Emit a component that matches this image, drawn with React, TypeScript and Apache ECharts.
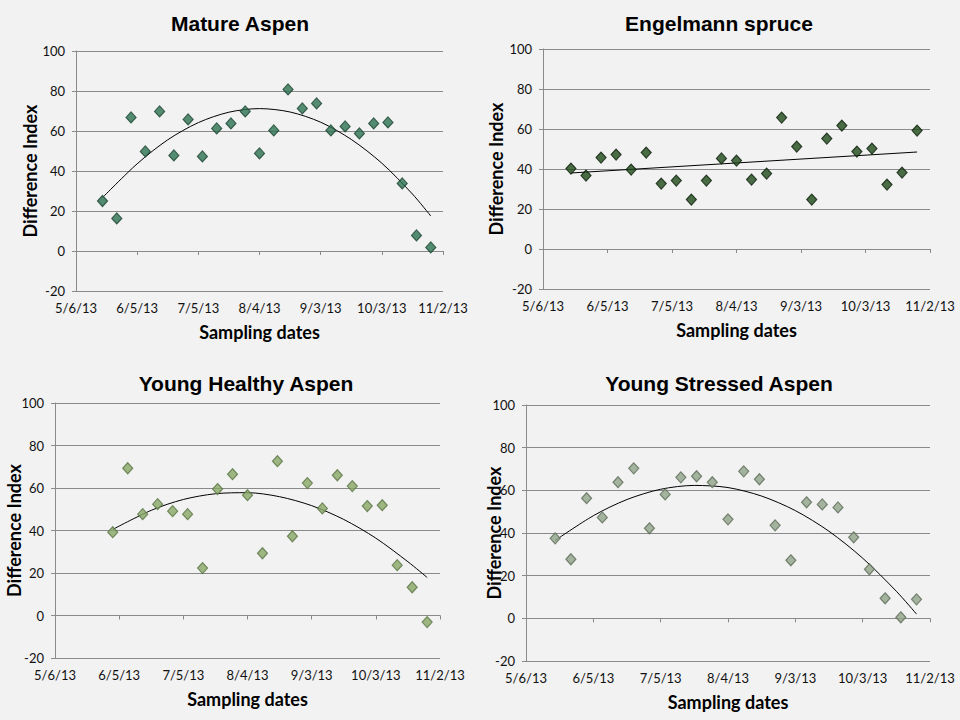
import * as echarts from "echarts";
import { useEffect, useRef } from "react";

const samplingDates = [
  "5/19/13", "5/26/13", "6/2/13", "6/9/13", "6/16/13", "6/23/13", "6/30/13", "7/7/13",
  "7/14/13", "7/21/13", "7/28/13", "8/4/13", "8/11/13", "8/18/13", "8/25/13", "9/1/13",
  "9/8/13", "9/15/13", "9/22/13", "9/29/13", "10/6/13", "10/13/13", "10/20/13", "10/27/13"
];
const youngHealthyDates = samplingDates.slice(2);

const matureAspen = [
  25.0, 16.3, 66.8, 49.8, 69.8, 47.8, 65.8, 47.3, 61.3, 63.8, 69.8, 48.8,
  60.3, 80.8, 71.3, 73.8, 60.3, 62.3, 58.8, 63.8, 64.3, 33.8, 7.8, 1.8
];
const engelmannSpruce = [
  40.2, 36.7, 45.7, 47.2, 39.7, 48.2, 32.7, 34.2, 24.7, 34.2, 45.3, 44.2,
  34.7, 37.7, 65.7, 51.2, 24.7, 55.2, 61.7, 48.7, 50.2, 32.2, 38.2, 59.2
];
const youngHealthyAspen = [
  39.2, 69.3, 47.7, 52.4, 49.1, 47.7, 22.3, 59.5, 66.5, 56.6, 29.3,
  72.6, 37.3, 62.3, 50.4, 66.0, 60.9, 51.5, 51.9, 23.7, 13.3, -3.1
];
const youngStressedAspen = [
  37.5, 27.7, 56.3, 47.3, 63.8, 70.3, 42.2, 58.1, 66.1, 66.6, 63.8, 46.4,
  68.9, 65.2, 43.6, 27.2, 54.4, 53.4, 52.0, 38.0, 23.0, 9.4, 0.5, 8.9
];

const trendDates = [
  "5/19/13", "6/5/13", "6/20/13", "7/5/13", "7/20/13", "8/4/13",
  "8/19/13", "9/3/13", "9/18/13", "10/3/13", "10/18/13", "10/27/13"
];
const matureTrend = [26.7, 43.6, 55.6, 64.2, 69.4, 71.2, 69.5, 64.4, 55.8, 43.9, 28.5, 17.5];
const healthyTrendDates = ["6/2/13", ...trendDates.slice(2)];
const healthyTrend = [40.5, 49.5, 54.6, 57.3, 57.8, 55.9, 51.7, 45.2, 36.4, 25.3, 17.9];
const stressedTrend = [36.5, 48.1, 55.7, 60.5, 62.3, 61.3, 57.3, 50.5, 40.8, 28.2, 12.7, 2.0];
const spruceTrendDates = ["5/19/13", "10/27/13"];
const spruceTrend = [38.0, 48.5];

const yTicks = { min: -20, max: 100, step: 20 };
const xStart = Date.UTC(2013, 4, 6);
const dayMs = 86400000;

function dayOffset(label: string) {
  const [m, d, y] = label.split("/").map(Number);
  return (Date.UTC(2000 + y, m - 1, d) - xStart) / dayMs;
}

function dateLabel(value: number) {
  const dt = new Date(xStart + value * dayMs);
  return `${dt.getUTCMonth() + 1}/${dt.getUTCDate()}/${dt.getUTCFullYear() % 100}`;
}

const panels = [
  {
    title: "Mature Aspen", dates: samplingDates, values: matureAspen,
    trendDates, trend: matureTrend,
    fill: "#2c7250", border: "#1c4431",
    grid: { left: 76, top: 51, width: 367, height: 240 }, nameGap: 37, titleX: 240, titleY: 23
  },
  {
    title: "Engelmann spruce", dates: samplingDates, values: engelmannSpruce,
    trendDates: spruceTrendDates, trend: spruceTrend,
    fill: "#1e4a19", border: "#0b1e09",
    grid: { left: 543, top: 49, width: 387, height: 240 }, nameGap: 38, titleX: 719, titleY: 23
  },
  {
    title: "Young Healthy Aspen", dates: youngHealthyDates, values: youngHealthyAspen,
    trendDates: healthyTrendDates, trend: healthyTrend,
    fill: "#88a665", border: "#5a7545",
    grid: { left: 55, top: 403, width: 385, height: 255 }, nameGap: 32, titleX: 246, titleY: 383
  },
  {
    title: "Young Stressed Aspen", dates: samplingDates, values: youngStressedAspen,
    trendDates, trend: stressedTrend,
    fill: "#90a388", border: "#5c6b57",
    grid: { left: 526, top: 405, width: 404, height: 256 }, nameGap: 23, titleX: 719, titleY: 383
  }
];

const gridColor = "#8a8a8a";
const tickFont = { fontFamily: "Lato", fontSize: 13, color: "#111" };
const nameFont = { fontFamily: "Lato", fontSize: 18, fontWeight: "bold" as const, color: "#000" };

function buildOption(): echarts.EChartsOption {
  const xAxes: any[] = [];
  const yAxes: any[] = [];
  const series: any[] = [];

  panels.forEach((panel, i) => {
    // axis line and ticks sitting on zero
    xAxes.push({
      gridIndex: i, type: "value", min: 0, max: 180, interval: 30,
      axisLine: { onZero: true, lineStyle: { color: gridColor } },
      axisTick: { show: true, length: 4, lineStyle: { color: gridColor } },
      axisLabel: { show: false },
      splitLine: { show: false }
    });
    // date labels along the bottom
    xAxes.push({
      gridIndex: i, type: "value", min: 0, max: 180, interval: 30, position: "bottom",
      axisLine: { show: false, onZero: false },
      axisTick: { show: false },
      axisLabel: { ...tickFont, margin: 10, formatter: dateLabel },
      splitLine: { show: false },
      name: "Sampling dates", nameLocation: "middle", nameGap: 32, nameTextStyle: nameFont,
      nameMoveOverlap: false
    });
    yAxes.push({
      gridIndex: i, type: "value", min: yTicks.min, max: yTicks.max, interval: yTicks.step,
      axisLine: { show: true, lineStyle: { color: gridColor } },
      axisTick: { show: true, length: 4, lineStyle: { color: gridColor } },
      axisLabel: { ...tickFont, margin: 11 },
      splitLine: { show: true, lineStyle: { color: gridColor, width: 1 } },
      name: "Difference Index", nameLocation: "middle", nameRotate: 90,
      nameGap: panel.nameGap, nameTextStyle: nameFont, nameMoveOverlap: false
    });
    series.push({
      type: "line", xAxisIndex: i * 2, yAxisIndex: i,
      data: panel.trendDates.map((d, k) => [dayOffset(d), panel.trend[k]]),
      showSymbol: false, smooth: panel.trend.length > 2 ? 0.3 : false,
      lineStyle: { color: "#000", width: 1 }, silent: true, z: 3
    });
    series.push({
      type: "scatter", xAxisIndex: i * 2, yAxisIndex: i,
      data: panel.dates.map((d, k) => [dayOffset(d), panel.values[k]]),
      symbol: "diamond", symbolSize: [10, 11],
      itemStyle: { color: panel.fill, borderColor: panel.border, borderWidth: 1.2 },
      z: 4
    });
  });

  return {
    animation: false,
    backgroundColor: "#f2f2f2",
    grid: panels.map((p) => ({ ...p.grid, containLabel: false })),
    xAxis: xAxes,
    yAxis: yAxes,
    series,
    graphic: panels.map((p) => ({
      type: "text", x: p.titleX, y: p.titleY,
      style: {
        text: p.title, fill: "#000", font: 'bold 21px "Liberation Sans"',
        align: "center", verticalAlign: "middle"
      }
    }))
  };
}

export default function App() {
  const ref = useRef<HTMLDivElement | null>(null);

  useEffect(() => {
    if (!ref.current) {
      return;
    }
    document.body.style.margin = "0";
    const chart = echarts.init(ref.current, undefined, { renderer: "svg" });
    chart.setOption(buildOption());
    return () => chart.dispose();
  }, []);

  return <div ref={ref} style={{ width: 960, height: 720 }} />;
}
